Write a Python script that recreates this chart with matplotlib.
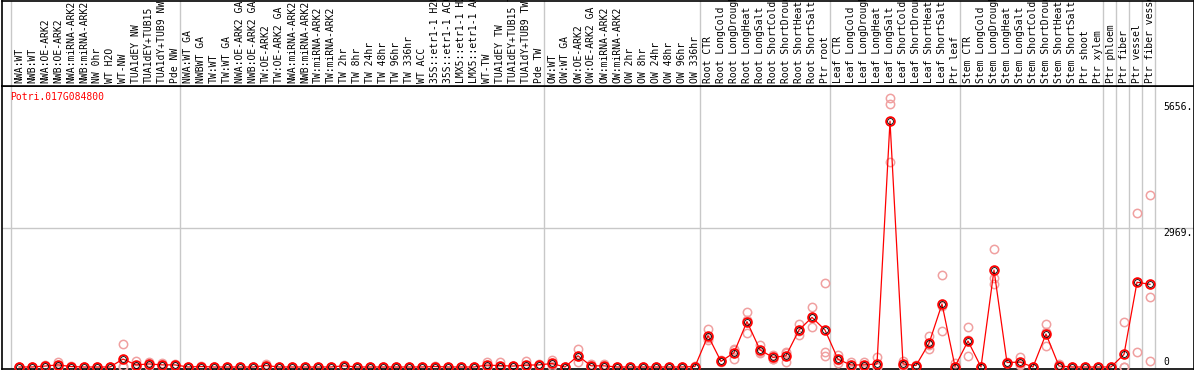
import numpy as np
import matplotlib.pyplot as plt

gene = "Potri.017G084800"

samples = [
    "NWA:WT", "NWB:WT", "NWA:OE-ARK2", "NWB:OE-ARK2", "NWA:miRNA-ARK2",
    "NWB:miRNA-ARK2", "NW 0hr", "WT H2O", "WT-NW", "TUA1dEY NW",
    "TUA1dEY+TUB15", "TUA1dY+TUB9 NW", "Pde NW",
    "NWA:WT GA", "NWBWT GA", "TW:WT", "TW:WT GA", "NWA:OE-ARK2 GA",
    "NWB:OE-ARK2 GA", "TW:OE-ARK2", "TW:OE-ARK2 GA", "NWA:miRNA-ARK2",
    "NWB:miRNA-ARK2", "TW:miRNA-ARK2", "TW:miRNA-ARK2", "TW 2hr", "TW 8hr",
    "TW 24hr", "TW 48hr", "TW 96hr", "TW 336hr", "WT ACC",
    "35S::etr1-1 H2O", "35S::etr1-1 ACC", "LMX5::etr1-1 H2O",
    "LMX5::etr1-1 ACC", "WT-TW", "TUA1dEY TW", "TUA1dEY+TUB15 TW",
    "TUA1dY+TUB9 TW", "Pde TW",
    "OW:WT", "OW:WT GA", "OW:OE-ARK2", "OW:OE-ARK2 GA", "OW:miRNA-ARK2",
    "OW:miRNA-ARK2", "OW 2hr", "OW 8hr", "OW 24hr", "OW 48hr", "OW 96hr",
    "OW 336hr",
    "Root CTR", "Root LongCold", "Root LongDrought", "Root LongHeat",
    "Root LongSalt", "Root ShortCold", "Root ShortDrought", "Root ShortHeat",
    "Root ShortSalt", "Ptr root",
    "Leaf CTR", "Leaf LongCold", "Leaf LongDrought", "Leaf LongHeat",
    "Leaf LongSalt", "Leaf ShortCold", "Leaf ShortDrought", "Leaf ShortHeat",
    "Leaf ShortSalt", "Ptr leaf",
    "Stem CTR", "Stem LongCold", "Stem LongDrought", "Stem LongHeat",
    "Stem LongSalt", "Stem ShortCold", "Stem ShortDrought", "Stem ShortHeat",
    "Stem ShortSalt", "Ptr shoot", "Ptr xylem",
    "Ptr phloem", "Ptr fiber", "Ptr vessel", "Ptr fiber vessel",
]
group_sizes = [13, 28, 12, 10, 10, 11, 1, 1, 1, 1]

means = [
    0, 0, 20, 45, 10, 0, 0, 0, 170, 45, 65, 45, 45,
    0, 10, 0, 0, 0, 0, 30, 0, 0, 0, 0, 0, 25, 0, 0, 0, 0, 0, 0,
    10, 0, 0, 0, 40, 30, 20, 40, 45,
    75, 0, 240, 25, 25, 0, 0, 0, 0, 0, 0, 10,
    670, 120, 305, 970, 365, 205, 240, 790, 1060, 790,
    165, 43, 45, 65, 5250, 65, 30, 505, 1345, 10,
    555, 0, 2070, 95, 105, 0, 705, 20, 0, 0, 0,
    0, 270, 1810, 1765,
]

reps = [
    [0, 0, 0], [0, 0, 0], [20, 40, 0], [110, 20, 5], [10, 0, 20],
    [0, 0, 0], [0, 0, 0], [0, 0, 0], [485, 20, 5], [125, 10, 0],
    [110, 60, 25], [80, 40, 15], [60, 45, 30],
    [0, 0, 0], [10, 20, 0], [0, 0, 0], [0, 0, 0], [0, 0, 0], [0, 0, 0],
    [60, 30, 0], [0, 0, 0], [0, 0, 0], [0, 0, 0], [0, 0, 0], [0, 0, 0],
    [50, 25, 0], [0, 0, 0], [0, 0, 0], [0, 0, 0], [0, 0, 0], [0, 0, 0],
    [0, 0, 0], [10, 20, 0], [0, 0, 0], [0, 0, 0], [0, 0, 0],
    [110, 10, 0], [110, 0, 0], [20, 30, 10], [130, 0, 0], [60, 45, 30],
    [145, 60, 20], [0, 0, 0], [375, 100, 245], [60, 10, 5], [60, 10, 5],
    [0, 0, 0], [0, 0, 0], [0, 0, 0], [0, 0, 0], [0, 0, 0], [0, 0, 0],
    [20, 10, 0],
    [810, 620, 580], [140, 100, 120], [375, 170, 370], [1175, 730, 1005],
    [470, 300, 325], [260, 180, 175], [100, 300, 320], [920, 685, 765],
    [1275, 850, 1055], [1790, 330, 235],
    [255, 80, 160], [115, 10, 5], [115, 15, 5], [205, 0, 0],
    [5740, 5610, 4370], [130, 40, 25], [30, 40, 20], [660, 460, 395],
    [1965, 770, 1300], [85, 0, 0],
    [850, 235, 580], [0, 0, 0], [2510, 1895, 1770], [110, 90, 85],
    [205, 60, 50], [0, 0, 0], [920, 450, 745], [60, 0, 0], [0, 0, 0],
    [0, 0, 0], [0, 0, 0],
    [0, 0, 0], [955, 0, 0], [3280, 330], [3665, 1490, 135],
]

y_marks = [5656, 2969, 0]

W, H = 1194, 370
fig = plt.figure(figsize=(W / 100, H / 100), dpi=100)
# plot area and label strip, in figure pixels
ax = fig.add_axes([2 / W, 1.5 / H, 1191.7 / W, 283 / H])
axl = fig.add_axes([2 / W, 284.5 / H, 1191.7 / W, 85 / H], sharex=ax)

x = np.arange(len(samples))
ax.set_xlim((2 - 19) / 13, (1193.7 - 19) / 13)
ax.set_ylim(-32, 6011)
axl.set_ylim(0, 1)

starts = np.cumsum([0] + group_sizes)
for a in (ax, axl):
    for s in starts:
        a.axvline(s - 0.58, color='#c8c8c8', lw=1)
    a.set_xticks([])
    a.set_yticks([])
    for sp in a.spines.values():
        sp.set_color('black')
        sp.set_linewidth(1.2)

ax.axhline(y_marks[1], color='#c8c8c8', lw=1)

for i, r in enumerate(reps):
    ax.plot([i] * len(r), r, 'o', ms=6, mfc='none', mec='#f0a0a0', mew=1.1,
            clip_on=False, zorder=3)
ax.plot(x, means, '-', color='red', lw=0.9, zorder=4, clip_on=False)
ax.plot(x, means, 'o', ms=6.3, mfc='none', mec='red', mew=1.3, zorder=5,
        clip_on=False)
ax.plot(x, means, 'o', ms=4.2, mfc='none', mec='black', mew=0.6, zorder=6,
        clip_on=False)

for i, name in enumerate(samples):
    axl.text(i, 0.03, name, rotation=90, ha='center', va='bottom',
             family='DejaVu Sans Mono', fontsize=7, color='black')

ax.text(88.0, y_marks[0], "5656.", ha='left', va='top',
        family='DejaVu Sans Mono', fontsize=7)
ax.text(88.0, y_marks[1], "2969.", ha='left', va='top',
        family='DejaVu Sans Mono', fontsize=7)
ax.text(88.0, y_marks[2], "0", ha='left', va='bottom',
        family='DejaVu Sans Mono', fontsize=7)

fig.text(10 / W, 1 - 97 / H, gene, color='red', ha='left', va='center',
         family='DejaVu Sans Mono', fontsize=7)

fig.savefig("out.png", dpi=100)
